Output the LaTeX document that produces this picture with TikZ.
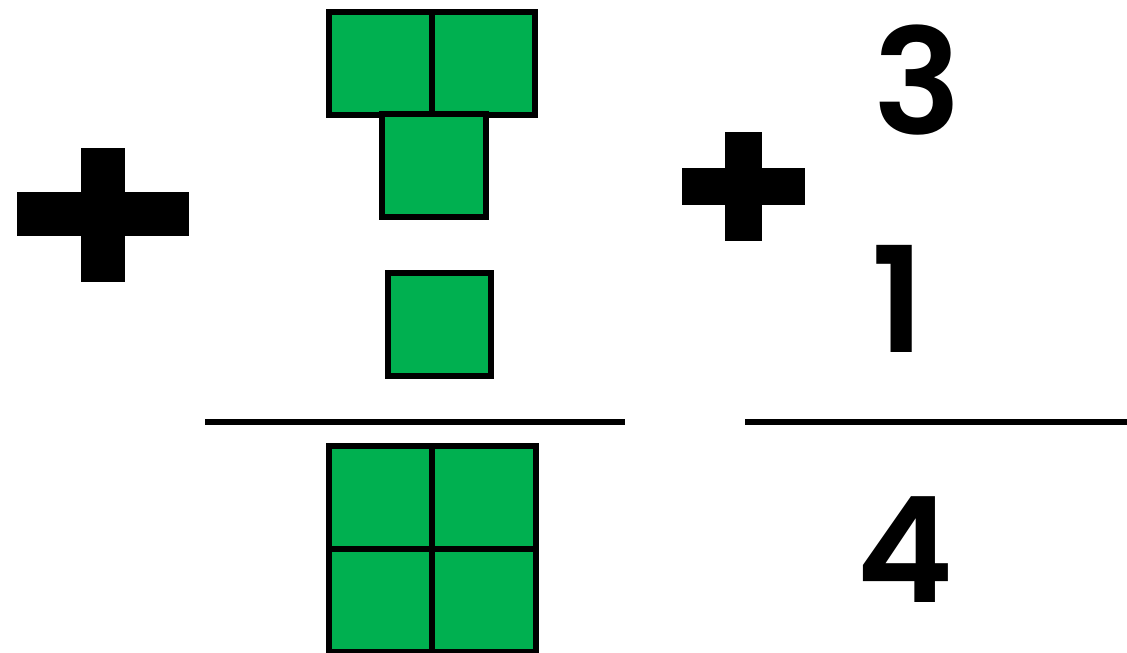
\documentclass[tikz,border=0pt]{standalone}
\usepackage{fontspec}
\newfontfamily\digfont{Poppins SemiBold}
\definecolor{tilegreen}{RGB}{0,176,80}
\tikzset{
  tile/.style={draw=black, fill=tilegreen, line width=6pt},
  grid line/.style={draw=black, line width=6pt},
  bar/.style={draw=none, fill=black},
  frac/.style={draw=black, line width=6pt},
  digit/.style={inner sep=0pt, anchor=base, font=\digfont\fontsize{147}{147}\selectfont}
}
\begin{document}
\begin{tikzpicture}[x=1pt, y=-1pt]
\useasboundingbox (0,0) rectangle (1127,653);
% left plus
\fill[bar] (81,148) rectangle (125,282);
\fill[bar] (17,192) rectangle (189,236);
% top two tiles
\draw[tile] (329,12) rectangle (535,115);
\draw[grid line] (432,12) -- (432,115);
% middle tile
\draw[tile] (381.5,114) rectangle (486,217);
% small tile
\draw[tile] (387.5,273) rectangle (491,376);
% left fraction bar
\coordinate (fl1) at (205,422);
\coordinate (fl2) at (625,422);
\draw[frac] (fl1) -- (fl2);
% bottom 2x2 tiles
\draw[tile] (329,446) rectangle (536,652);
\draw[grid line] (432,446) -- (432,652);
\draw[grid line] (329,549) -- (536,549);
% right plus
\fill[bar] (725,132) rectangle (762,241);
\fill[bar] (682,168) rectangle (805,205);
% right fraction bar
\coordinate (fr1) at (745,422);
\coordinate (fr2) at (1127,422);
\draw[frac] (fr1) -- (fr2);
% digits
\node[digit] (d3) at (918,134) {3};
\node[digit] (d1) at (898,352) {1};
\node[digit] (d4) at (905,602) {4};
\end{tikzpicture}
\end{document}
